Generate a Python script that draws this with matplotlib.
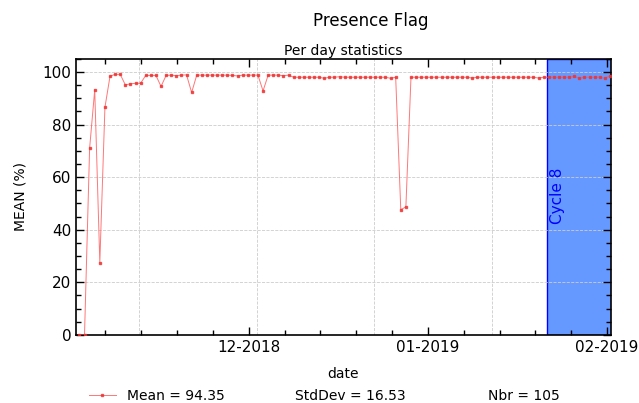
import matplotlib
matplotlib.use("Agg")
import matplotlib.pyplot as plt
import matplotlib.dates as mdates
from matplotlib.ticker import AutoMinorLocator, MultipleLocator
from matplotlib.lines import Line2D
import pandas as pd

# per day mean of the presence flag (%)
mean_values = [
    0.0, 0.0, 71.0, 93.2, 27.5, 86.5, 98.4, 99.1, 99.1, 95.1,
    95.5, 95.7, 95.7, 98.7, 98.7, 98.7, 94.5, 98.7, 98.8, 98.6,
    98.8, 98.9, 92.2, 98.8, 98.8, 98.8, 98.8, 98.8, 98.8, 98.8,
    98.7, 98.5, 98.8, 98.8, 98.8, 98.8, 92.8, 98.8, 98.8, 98.8,
    98.6, 98.8, 98.0, 98.0, 98.0, 98.0, 98.0, 98.0, 97.6, 98.0,
    98.0, 98.2, 98.0, 98.0, 98.0, 98.0, 98.0, 98.0, 98.0, 98.0,
    98.0, 97.6, 98.0, 47.6, 48.7, 98.0, 98.0, 98.0, 98.0, 98.0,
    98.0, 98.0, 98.0, 98.0, 98.0, 98.0, 98.0, 97.7, 98.0, 98.0,
    98.0, 98.0, 98.0, 98.0, 98.0, 98.0, 98.0, 98.0, 98.0, 98.0,
    97.7, 98.0, 98.0, 98.0, 98.0, 98.0, 98.0, 98.3, 97.6, 98.0,
    98.0, 98.0, 98.0, 97.6, 98.6,
]
dates = pd.date_range("2018-11-01 17:00", "2019-02-01 12:00", periods=len(mean_values))

cycle_label = "Cycle 8"
cycle_start = pd.Timestamp("2019-01-21 14:00")
cycle_end = pd.Timestamp("2019-02-06")

vgrid_dates = pd.to_datetime(["2018-11-11 23:00", "2018-12-02 10:00",
                              "2018-12-22 15:00", "2019-01-12 02:00"])

stats_labels = ["Mean = 94.35", "StdDev = 16.53", "Nbr = 105"]

fig = plt.figure(figsize=(6.39, 4.03), dpi=100)
ax = fig.add_axes([0.119, 0.169, 0.837, 0.685])

ax.axvspan(cycle_start, cycle_end, facecolor="#6699ff", edgecolor="#0000ff",
           linewidth=1.0, zorder=1)
ax.text(cycle_start + pd.Timedelta(hours=12), 42, cycle_label, rotation=90,
        color="#0000ff", fontsize=11, ha="left", va="bottom", zorder=4)

ax.grid(True, axis="y", linestyle="--", color="#cccccc", linewidth=0.6, zorder=2)
for d in vgrid_dates:
    ax.axvline(d, linestyle="--", color="#cccccc", linewidth=0.6, zorder=2)

line_style = dict(color="#ff5555", linewidth=0.7, alpha=0.8, marker="s",
                  markersize=1.8, markerfacecolor="#ee3333",
                  markeredgecolor="#ee3333")
ax.plot(dates, mean_values, zorder=3, **line_style)

ax.set_xlim(pd.Timestamp("2018-11-01 03:00"), pd.Timestamp("2019-02-01 16:00"))
ax.set_ylim(0, 105)
ax.yaxis.set_major_locator(MultipleLocator(20))
ax.yaxis.set_minor_locator(AutoMinorLocator(4))
ax.xaxis.set_major_locator(mdates.MonthLocator())
ax.xaxis.set_major_formatter(mdates.DateFormatter("%m-%Y"))
ax.xaxis.set_minor_locator(AutoMinorLocator(5))

ax.tick_params(which="both", direction="in", top=True, right=True, width=1.0)
ax.tick_params(which="major", length=6, labelsize=11)
ax.tick_params(which="minor", length=3.5)
for s in ax.spines.values():
    s.set_linewidth(1.2)

ax.set_ylabel("MEAN (%)", fontsize=10, labelpad=11)
ax.set_xlabel("date", fontsize=10, labelpad=9)
ax.set_title("Per day statistics", fontsize=10, pad=3)
fig.suptitle("Presence Flag", fontsize=12, x=0.58, y=0.97)

# stats row under the plot
fig.legend([Line2D([], [], **line_style)], stats_labels[:1], loc="center left",
           frameon=False, fontsize=10, bbox_to_anchor=(0.119, 0.017),
           handlelength=2.0, handletextpad=0.8)
fig.text(0.461, 0.017, stats_labels[1], fontsize=10, ha="left", va="center")
fig.text(0.763, 0.017, stats_labels[2], fontsize=10, ha="left", va="center")

plt.savefig("out.png", dpi=100)
